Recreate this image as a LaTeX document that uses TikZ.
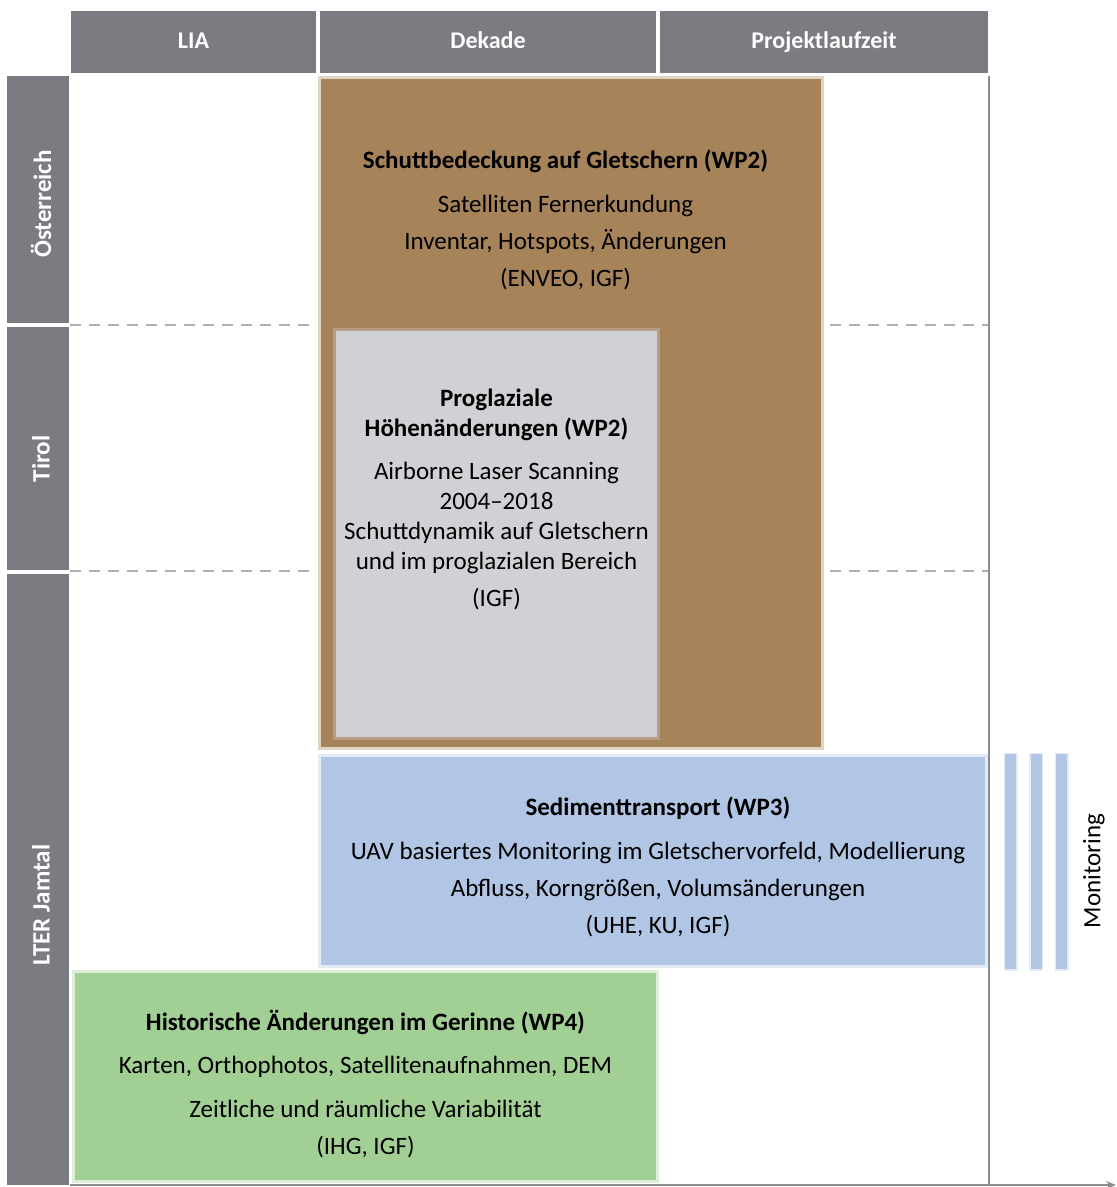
\documentclass[tikz,border=0pt]{standalone}
\usepackage{fontspec}
\setmainfont{Carlito}
\usetikzlibrary{arrows.meta,positioning}

\definecolor{headgray}{RGB}{123,124,129}
\definecolor{schuttbrown}{RGB}{167,131,90}
\definecolor{proglgray}{RGB}{208,209,212}
\definecolor{sedblue}{RGB}{177,197,229}
\definecolor{histgreen}{RGB}{161,207,148}
\definecolor{dashgray}{RGB}{175,175,175}
\definecolor{axisgray}{RGB}{140,140,140}

\begin{document}
\begin{tikzpicture}[x=1pt,y=-1pt,
	head/.style={fill=headgray, text=white, inner sep=0pt, minimum height=62pt,
		text height=17pt, text depth=5pt, font=\fontsize{24}{28}\selectfont\bfseries},
	side/.style={fill=headgray, inner sep=0pt, minimum width=62pt},
	sidetext/.style={text=white, rotate=90, inner sep=0pt,
		font=\fontsize{25}{28}\selectfont\bfseries},
	wpbox/.style={inner sep=0pt, line width=6pt, draw opacity=0.35},
	wptext/.style={align=center, inner sep=0pt, font=\fontsize{25}{30}\selectfont},
	sep/.style={draw=dashgray, line width=1.3pt, dash pattern=on 11pt off 8pt},
	axis/.style={draw=axisgray, line width=1.3pt}]

	\useasboundingbox (0,0) rectangle (1117,1187);

	% headers
	\node[head, minimum width=245pt] (lia) at (193.5,42) {LIA};
	\node[head, minimum width=336pt] (dekade) at (488,42) {Dekade};
	\node[head, minimum width=328pt] (projekt) at (824,42) {Projektlaufzeit};

	% regions
	\node[side, minimum height=247pt] (oest) at (38,199.5) {};
	\node[side, minimum height=243pt] (tirol) at (38,448.5) {};
	\node[side, minimum height=611pt] (lter) at (38,879.5) {};
	\node[sidetext] (oesttext) at (41,204) {Österreich};
	\node[sidetext] (tiroltext) at (41,459) {Tirol};
	\node[sidetext] (ltertext) at (41,905) {LTER Jamtal};

	% grid
	\draw[sep] (70,325) -- (316,325);
	\draw[sep] (830,325) -- (988,325);
	\draw[sep] (70,571) -- (316,571);
	\draw[sep] (830,571) -- (988,571);
	\draw[axis] (989,76) -- (989,1185);
	\draw[axis, -{Stealth[length=10pt,width=8pt]}] (70,1185) -- (1116,1185);

	% work packages
	\node[wpbox, fill=schuttbrown, draw=schuttbrown, minimum width=500pt, minimum height=668pt] (schutt) at (570.5,413) {};
	\node[wptext, below=74pt of schutt.north, xshift=-5pt] (schutttext)
		{\textbf{Schuttbedeckung auf Gletschern (WP2)}\\[14pt]
		Satelliten Fernerkundung\\[7pt] Inventar, Hotspots, Änderungen\\[7pt] (ENVEO, IGF)};

	\node[wpbox, fill=proglgray, draw=proglgray, minimum width=321pt, minimum height=406pt] (progl) at (496.5,534) {};
	\node[wptext, below=61pt of progl.north] (progltext)
		{\textbf{Proglaziale}\\ \textbf{Höhenänderungen (WP2)}\\[13pt]
		Airborne Laser Scanning\\ 2004–2018\\ Schuttdynamik auf Gletschern\\ und im proglazialen Bereich\\[7pt] (IGF)};

	\node[wpbox, fill=sedblue, draw=sedblue, minimum width=664pt, minimum height=208pt] (sed) at (653,861) {};
	\node[wptext, below=43pt of sed.north, xshift=5pt] (sedtext)
		{\textbf{Sedimenttransport (WP3)}\\[14pt]
		UAV basiertes Monitoring im Gletschervorfeld, Modellierung\\[7pt]
		Abfluss, Korngrößen, Volumsänderungen\\[7pt] (UHE, KU, IGF)};

	\node[wpbox, fill=histgreen, draw=histgreen, minimum width=581pt, minimum height=207pt] (hist) at (365.5,1076.5) {};
	\node[wptext, below=40pt of hist.north] (histtext)
		{\textbf{Historische Änderungen im Gerinne (WP4)}\\[13pt]
		Karten, Orthophotos, Satellitenaufnahmen, DEM\\[14pt]
		Zeitliche und räumliche Variabilität\\[7pt] (IHG, IGF)};

	% monitoring
	\foreach \x [count=\i] in {1010.5,1036,1061.5}
		\node[wpbox, fill=sedblue, draw=sedblue, line width=3pt, minimum width=11pt, minimum height=215pt] (bar\i) at (\x,861.5) {};
	\node[rotate=90, inner sep=0pt, font=\fontsize{25}{28}\selectfont] (monitoring) at (1094,871) {Monitoring};
\end{tikzpicture}
\end{document}
